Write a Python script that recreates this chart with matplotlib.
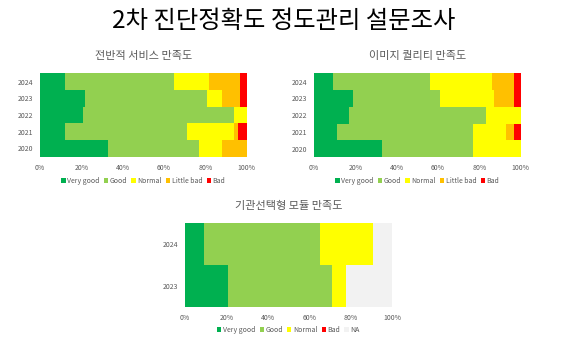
import matplotlib
matplotlib.use("Agg")
import matplotlib.pyplot as plt
from matplotlib.patches import Patch
from matplotlib.ticker import FuncFormatter

plt.rcParams['font.family'] = ['Noto Sans CJK KR', 'DejaVu Sans']

# ---- data (percent of responses) ----
years_5 = ["2020", "2021", "2022", "2023", "2024"]
years_2 = ["2023", "2024"]

cats_a = ["Very good", "Good", "Normal", "Little bad", "Bad"]
cats_b = ["Very good", "Good", "Normal", "Bad", "NA"]

service_very_good = [33, 12, 21, 22, 12]
service_good      = [44, 59, 73, 59, 53]
service_normal    = [11, 23, 6, 7, 17]
service_little    = [12, 2, 0, 9, 15]
service_bad       = [0, 4, 0, 3, 3]

image_very_good = [33, 11, 17, 19, 9]
image_good      = [44, 66, 66, 42, 47]
image_normal    = [23, 16, 17, 26, 30]
image_little    = [0, 4, 0, 10, 11]
image_bad       = [0, 3, 0, 3, 3]

module_very_good = [21, 9]
module_good      = [50, 56]
module_normal    = [7, 26]
module_bad       = [0, 0]
module_na        = [22, 9]

colors = {
    "Very good": "#00B050",
    "Good": "#92D050",
    "Normal": "#FFFF00",
    "Little bad": "#FFC000",
    "Bad": "#FF0000",
    "NA": "#F2F2F2",
}

TXT = "#595959"
W, H = 567, 343

fig = plt.figure(figsize=(W / 100, H / 100), dpi=100)
fig.patch.set_facecolor("white")


def px_axes(left, top, right, bottom):
    return fig.add_axes([left / W, 1 - bottom / H, (right - left) / W, (bottom - top) / H])


def stacked(ax, years, series, cats, title):
    y = list(range(len(years)))
    left = [0] * len(years)
    for name, vals in zip(cats, series):
        ax.barh(y, vals, left=left, height=1.0, color=colors[name],
                linewidth=0, label=name)
        left = [a + b for a, b in zip(left, vals)]
    ax.set_xlim(0, 100)
    ax.set_ylim(-0.5, len(years) - 0.5)
    ax.set_yticks(y)
    ax.set_yticklabels(years)
    ax.set_xticks([0, 20, 40, 60, 80, 100])
    ax.xaxis.set_major_formatter(FuncFormatter(lambda v, p: f"{int(v)}%"))
    ax.tick_params(length=0, labelsize=5, colors=TXT, pad=5)
    for s in ax.spines.values():
        s.set_visible(False)
    ax.set_title(title, fontsize=8, color=TXT, pad=10)


def legend_below(ax, cats, y_px):
    handles = [Patch(facecolor=colors[c], edgecolor="none", label=c) for c in cats]
    bb = ax.get_position()
    cx = (bb.x0 + bb.x1) / 2
    fig.legend(handles=handles, loc="center", bbox_to_anchor=(cx, 1 - y_px / H),
               ncol=len(cats), frameon=False, fontsize=5, labelcolor=TXT,
               handlelength=0.6, handleheight=0.6, handletextpad=0.25,
               columnspacing=0.6, borderaxespad=0)


ax1 = px_axes(40, 73.3, 246.7, 156.7)
stacked(ax1, years_5,
        [service_very_good, service_good, service_normal, service_little, service_bad],
        cats_a, "전반적 서비스 만족도")
legend_below(ax1, cats_a, 181)

ax2 = px_axes(314, 73.3, 520.7, 157)
stacked(ax2, years_5,
        [image_very_good, image_good, image_normal, image_little, image_bad],
        cats_a, "이미지 퀄리티 만족도")
legend_below(ax2, cats_a, 181)

ax3 = px_axes(185, 223.3, 392, 306.7)
stacked(ax3, years_2,
        [module_very_good, module_good, module_normal, module_bad, module_na],
        cats_b, "기관선택형 모듈 만족도")
legend_below(ax3, cats_b, 330)

fig.text(0.5, 1 - 21 / H, "2차 진단정확도 정도관리 설문조사", ha="center", va="center",
         fontsize=17.5, color="black")

fig.savefig("out.png", dpi=100, facecolor="white")
